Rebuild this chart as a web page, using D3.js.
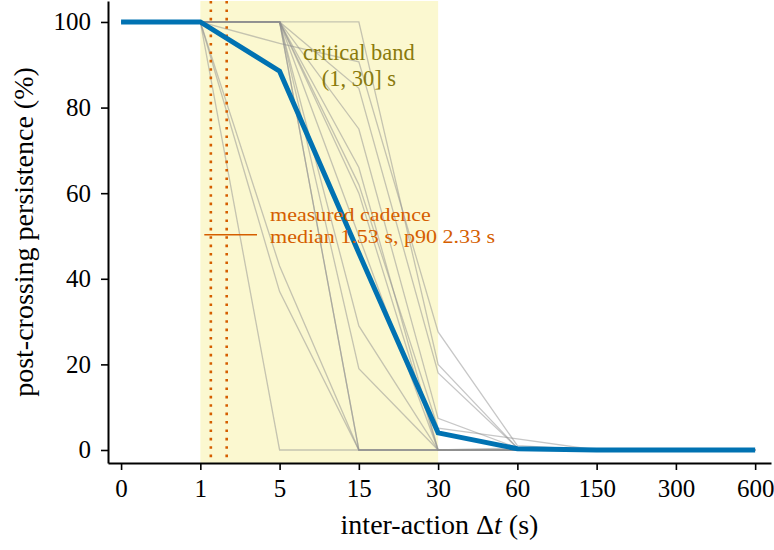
<!DOCTYPE html>
<html>
<head>
<meta charset="utf-8">
<script src="https://cdn.jsdelivr.net/npm/d3@7"></script>
<style>
  body { margin: 0; background: #fff; }
  svg text { font-family: "Liberation Serif", "Times New Roman", serif; }
</style>
</head>
<body>
<svg width="774" height="550"></svg>
<script>
// x categories (seconds), drawn as evenly spaced points
const deltaT = [0, 1, 5, 15, 30, 60, 150, 300, 600];
const tickLabels = ["0", "1", "5", "15", "30", "60", "150", "300", "600"];

// mean persistence curve
const meanCurve = [100, 100, 88.5, 46, 4, 0.3, 0, 0, 0];

// individual runs (gray)
const runs = [
    [100, 100, 0, 0, 0, 0, 0, 0, 0],
    [100, 100, 37, 0, 0, 0, 0, 0, 0],
    [100, 100, 43, 0, 0, 0, 0, 0, 0],
    [100, 100, 100, 0, 0, 0, 0, 0, 0],
    [100, 100, 100, 0, 0, 0, 0, 0, 0],
    [100, 100, 100, 19, 0, 0, 0, 0, 0],
    [100, 100, 100, 29, 0, 0, 0, 0, 0],
    [100, 100, 100, 50, 0, 0, 0, 0, 0],
    [100, 100, 100, 60, 0, 0, 0, 0, 0],
    [100, 100, 100, 66, 0, 0.5, 0, 0, 0],
    [100, 100, 100, 75, 7.4, 0.5, 0, 0, 0],
    [100, 100, 100, 84.5, 18, 0.5, 0, 0, 0],
    [100, 100, 95, 90.7, 27.6, 1, 0, 0, 0],
    [100, 100, 100, 100, 20, 0.5, 0, 0, 0],
    [100, 100, 100, 62, 5.1, 2.6, 0, 0, 0]
];

const bandRange = [1, 30];
const cadence = [1.53, 2.33];
const yTicks = [0, 20, 40, 60, 80, 100];

const svg = d3.select("svg");
const mLeft = 108, mRight = 771, mTop = 1, mBottom = 463;

const xIdx = d3.scaleLinear().domain([-0.165, 8.2]).range([mLeft, mRight]);
// piecewise scale: seconds -> pixel, linear between category positions
const x = d3.scaleLinear().domain(deltaT).range(deltaT.map((d, i) => xIdx(i)));
const y = d3.scaleLinear().domain([-3.04, 104.9]).range([mBottom, mTop]);

// critical band
svg.append("rect")
    .attr("x", x(bandRange[0]))
    .attr("y", mTop)
    .attr("width", x(bandRange[1]) - x(bandRange[0]))
    .attr("height", mBottom - mTop)
    .attr("fill", "#f0e442")
    .attr("fill-opacity", 0.25);

const line = d3.line()
    .x((d, i) => xIdx(i))
    .y(d => y(d));

svg.append("g").selectAll("path")
    .data(runs)
    .join("path")
    .attr("d", d => line(d))
    .attr("fill", "none")
    .attr("stroke", "#8f8f8f")
    .attr("stroke-opacity", 0.5)
    .attr("stroke-width", 1.3);

// cadence markers
svg.append("g").selectAll("line")
    .data(cadence)
    .join("line")
    .attr("x1", d => x(d))
    .attr("x2", d => x(d))
    .attr("y1", mTop)
    .attr("y2", mBottom)
    .attr("stroke", "#d55e00")
    .attr("stroke-width", 2.6)
    .attr("stroke-dasharray", "2.6,5.8");

svg.append("path")
    .attr("d", line(meanCurve))
    .attr("fill", "none")
    .attr("stroke", "#0072b2")
    .attr("stroke-width", 5);

// axes
const xAxis = d3.axisBottom(xIdx)
    .tickValues(d3.range(deltaT.length))
    .tickFormat(i => tickLabels[i])
    .tickSize(7)
    .tickPadding(9)
    .tickSizeOuter(0);
const yAxis = d3.axisLeft(y)
    .tickValues(yTicks)
    .tickSize(7)
    .tickPadding(10)
    .tickSizeOuter(0);

const gx = svg.append("g").attr("transform", `translate(0,${mBottom})`).call(xAxis);
const gy = svg.append("g").attr("transform", `translate(${mLeft},0)`).call(yAxis);
[gx, gy].forEach(g => {
    g.select(".domain").attr("stroke", "#000").attr("stroke-width", 2);
    g.selectAll(".tick line").attr("stroke", "#000").attr("stroke-width", 1.6);
    g.selectAll(".tick text").attr("fill", "#000").style("font-size", "25px")
        .style("font-family", '"Liberation Serif", serif');
});

// axis labels
svg.append("text")
    .attr("x", (mLeft + mRight) / 2)
    .attr("y", 534)
    .attr("text-anchor", "middle")
    .style("font-size", "28px")
    .html('inter-action Δ<tspan font-style="italic">t</tspan> (s)');

svg.append("text")
    .attr("transform", `translate(33,${(mTop + mBottom) / 2}) rotate(-90)`)
    .attr("text-anchor", "middle")
    .style("font-size", "28px")
    .text("post-crossing persistence (%)");

// band label
const bandMid = x(15);
svg.append("text").attr("x", bandMid).attr("y", 60).attr("text-anchor", "middle")
    .attr("fill", "#8a7a0c").style("font-size", "22.5px").text("critical band");
svg.append("text").attr("x", bandMid).attr("y", 86).attr("text-anchor", "middle")
    .attr("fill", "#8a7a0c").style("font-size", "22.5px").text("(1, 30] s");

// cadence annotation (text is a little wider than tall in the original)
svg.append("line")
    .attr("x1", x(1.2)).attr("x2", 257)
    .attr("y1", y(50.3)).attr("y2", y(50.3))
    .attr("stroke", "#d55e00").attr("stroke-width", 1.5);
const cadenceLines = ["measured cadence", "median 1.53 s, p90 2.33 s"];
svg.append("g").selectAll("text")
    .data(cadenceLines)
    .join("text")
    .attr("transform", (d, i) => `translate(270,${221 + i * 22}) scale(1.16,1)`)
    .attr("fill", "#d55e00")
    .style("font-size", "19px")
    .text(d => d);
</script>
</body>
</html>
